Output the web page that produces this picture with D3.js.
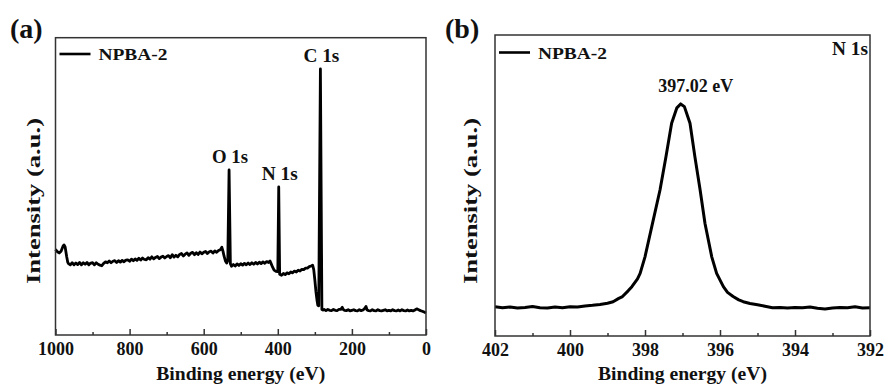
<!DOCTYPE html>
<html>
<head>
<meta charset="utf-8">
<script src="https://cdn.jsdelivr.net/npm/d3@7"></script>
<style>
  body { margin: 0; background: #fff; }
  text { font-family: "Liberation Serif", "Times New Roman", serif; font-weight: bold; fill: #111; }
</style>
</head>
<body>
<svg id="chart" width="887" height="387"></svg>
<script>
// (a) survey spectrum, binding energy (eV) vs intensity (a.u.)
const surveyEnergy = [
  1000, 995, 990, 985, 980, 977, 974, 970, 967, 965, 960, 955, 950, 945, 940, 935, 930, 925, 920, 915,
  910, 905, 900, 895, 890, 885, 880, 875, 870, 865, 860, 855, 850, 845, 840, 835, 830, 825, 820, 815,
  810, 805, 800, 795, 790, 785, 780, 775, 770, 765, 760, 755, 750, 745, 740, 735, 730, 725, 720, 715,
  710, 705, 700, 695, 690, 685, 680, 675, 670, 665, 660, 655, 650, 645, 640, 635, 630, 625, 620, 615,
  610, 605, 600, 595, 590, 585, 580, 575, 570, 565, 560, 555, 551, 548, 545, 541, 538, 535, 531.5, 528,
  525, 520, 515, 510, 505, 500, 495, 490, 485, 480, 475, 470, 465, 460, 455, 450, 445, 440, 435, 430,
  425, 421, 418, 414, 410, 405, 400, 397.5, 395, 390, 385, 380, 375, 370, 365, 360, 355, 350, 345, 340,
  335, 330, 325, 320, 315, 310, 306, 303, 300, 297, 294, 292, 289.5, 285, 281, 278, 275, 270, 265, 260,
  255, 250, 245, 240, 235, 230, 226, 223, 220, 215, 210, 205, 200, 195, 190, 185, 180, 175, 170, 165,
  162, 159, 155, 150, 145, 140, 135, 130, 125, 120, 115, 110, 105, 100, 95, 90, 85, 80, 75, 70,
  65, 60, 55, 50, 45, 40, 35, 30, 25, 20, 15, 10, 5, 0
];
const surveyIntensity = [
  28.8, 28.0, 27.6, 28.2, 29.8, 30.3, 29.6, 26.5, 24.5, 24.0, 23.6, 24.3, 23.6, 24.2, 23.7, 24.4, 23.6, 24.3, 23.8, 24.4,
  23.6, 24.2, 24.3, 23.6, 24.3, 23.8, 23.5, 23.3, 24.1, 24.6, 24.3, 24.9, 24.3, 24.8, 25.0, 24.4, 25.0, 24.5, 25.1, 24.6,
  25.2, 25.3, 24.8, 25.5, 25.0, 25.6, 25.1, 25.8, 25.2, 25.9, 25.4, 25.3, 26.0, 25.5, 26.3, 25.6, 26.1, 26.4, 25.7, 26.2,
  26.5, 25.9, 26.4, 26.7, 26.0, 27.0, 26.2, 26.8, 26.3, 27.1, 27.4, 26.6, 27.2, 27.6, 26.8, 27.5, 27.8, 27.0, 27.7, 27.1,
  27.9, 27.3, 27.8, 28.1, 27.4, 28.0, 28.2, 27.6, 28.3, 27.8, 28.4, 28.7, 29.5, 28.2, 26.5, 24.8, 24.2, 25.0, 55.5, 24.0,
  23.1, 23.7, 23.2, 23.9, 23.4, 24.0, 23.5, 24.1, 23.6, 24.2, 23.7, 24.3, 23.8, 24.4, 23.9, 24.5, 24.0, 24.6, 24.1, 24.7,
  24.4, 24.9, 24.0, 22.8, 21.8, 21.4, 21.3, 49.8, 20.4, 20.1, 20.7, 20.3, 20.9, 20.6, 21.2, 20.9, 21.5, 21.2, 21.8, 21.5,
  22.1, 22.0, 22.5, 22.5, 23.0, 23.2, 23.5, 22.0, 18.5, 14.5, 11.5, 10.0, 9.8, 89.5, 8.6, 8.4, 8.6, 8.2, 8.6, 8.3,
  8.2, 8.6, 8.3, 8.2, 8.6, 8.6, 9.3, 8.5, 8.3, 8.2, 8.5, 8.1, 8.3, 8.5, 8.2, 8.1, 8.5, 8.2, 8.4, 9.0,
  9.6, 8.4, 8.2, 8.1, 8.5, 8.2, 8.1, 8.5, 8.2, 8.1, 8.3, 8.5, 8.1, 8.3, 8.1, 8.5, 8.2, 8.1, 8.4, 8.1,
  8.5, 8.2, 8.1, 8.4, 8.1, 8.3, 8.1, 8.4, 8.8, 8.5, 8.2, 8.0, 7.7, 7.4
];
const surveyTicks = [1000, 800, 600, 400, 200, 0];
const surveyMinorTicks = [900, 700, 500, 300, 100];
const surveyPeaks = [
  { label: "O 1s", energy: 531.5, top: 55.5 },
  { label: "N 1s", energy: 397.5, top: 49.8 },
  { label: "C 1s", energy: 285, top: 89.5 }
];

// (b) high resolution N 1s
const n1sEnergy = [
  402.0, 401.8, 401.6, 401.4, 401.2, 401.0, 400.8, 400.6, 400.4, 400.2, 400.0, 399.8, 399.6, 399.4, 399.2,
  399.0, 398.85, 398.7, 398.6, 398.45, 398.35, 398.2, 398.13, 398.0, 397.8, 397.6, 397.44, 397.29, 397.15,
  397.05, 396.95, 396.8, 396.67, 396.53, 396.4, 396.22, 396.09, 395.91, 395.8, 395.65, 395.5, 395.38, 395.2,
  395.0, 394.8, 394.6, 394.4, 394.2, 394.0, 393.8, 393.6, 393.4, 393.2, 393.0, 392.8, 392.6, 392.4, 392.2, 392.0
];
const n1sIntensity = [
  9.7, 9.4, 9.6, 9.3, 9.5, 9.8, 9.4, 9.3, 9.6, 9.4, 9.7, 9.6, 10.0, 10.2, 10.5,
  10.9, 11.4, 12.5, 13.1, 15.0, 16.4, 19.0, 20.8, 26.3, 37.4, 48.5, 59.6, 70.7, 75.8,
  77.1, 76.2, 70.7, 59.6, 48.5, 37.4, 26.3, 20.8, 16.4, 14.5, 13.1, 12.0, 11.4, 10.8,
  10.4, 9.9, 9.4, 9.5, 9.3, 9.5, 9.4, 9.6, 9.2, 9.0, 9.3, 9.5, 9.4, 9.7, 9.3, 9.4
];
const n1sTicks = [402, 400, 398, 396, 394, 392];
const n1sMinorTicks = [401, 399, 397, 395, 393];

const svg = d3.select('#chart');

function drawPanel(opts) {
  const { left, right, top, bottom } = opts;
  const g = svg.append('g');

  const x = d3.scaleLinear().domain(opts.xDomain).range([left, right]);
  const y = d3.scaleLinear().domain([0, 100]).range([bottom, top]);

  // Spectrum
  const line = d3.line()
    .x(d => x(d[0]))
    .y(d => y(d[1]));
  const points = d3.zip(opts.energy, opts.intensity);
  g.append('path')
    .datum(points)
    .attr('d', line)
    .attr('fill', 'none')
    .attr('stroke', '#000')
    .attr('stroke-width', opts.lineWidth)
    .attr('stroke-linejoin', 'round');

  // Frame
  g.append('rect')
    .attr('x', left).attr('y', top)
    .attr('width', right - left).attr('height', bottom - top)
    .attr('fill', 'none')
    .attr('stroke', '#333')
    .attr('stroke-width', 1.5);

  // Bottom axis, ticks pointing inward
  const axis = g.append('g')
    .attr('transform', 'translate(0,' + bottom + ')')
    .call(d3.axisBottom(x)
      .tickValues(opts.ticks)
      .tickSizeInner(-6)
      .tickSizeOuter(0)
      .tickPadding(7)
      .tickFormat(d3.format('d')));
  axis.select('.domain').remove();
  axis.selectAll('line').attr('stroke', '#333').attr('stroke-width', 1.5);
  axis.selectAll('text').style('font-size', '18px').attr('fill', '#111');

  const minor = g.append('g')
    .attr('transform', 'translate(0,' + bottom + ')')
    .call(d3.axisBottom(x)
      .tickValues(opts.minorTicks)
      .tickSizeInner(-3)
      .tickSizeOuter(0)
      .tickFormat(''));
  minor.select('.domain').remove();
  minor.selectAll('line').attr('stroke', '#333').attr('stroke-width', 1.5);

  // Axis titles
  g.append('text')
    .attr('x', (left + right) / 2)
    .attr('y', 379.5)
    .attr('text-anchor', 'middle')
    .attr('textLength', 169)
    .attr('lengthAdjust', 'spacingAndGlyphs')
    .style('font-size', '18px')
    .text('Binding energy (eV)');

  g.append('text')
    .attr('transform', 'translate(' + opts.yLabelX + ',201) rotate(-90)')
    .attr('text-anchor', 'middle')
    .attr('textLength', 166)
    .attr('lengthAdjust', 'spacingAndGlyphs')
    .style('font-size', '18px')
    .text('Intensity (a.u.)');

  // Panel tag
  g.append('text')
    .attr('x', opts.tagX)
    .attr('y', 38)
    .style('font-size', '28px')
    .text(opts.tag);

  // Legend
  g.append('line')
    .attr('x1', left + 4).attr('x2', left + 35)
    .attr('y1', opts.legendY).attr('y2', opts.legendY)
    .attr('stroke', '#000').attr('stroke-width', 2.6);
  g.append('text')
    .attr('x', left + 43)
    .attr('y', opts.legendY + 6)
    .attr('textLength', 69)
    .attr('lengthAdjust', 'spacingAndGlyphs')
    .style('font-size', '16px')
    .text('NPBA-2');

  return { g, x, y };
}

// Panel (a)
const a = drawPanel({
  left: 55.5, right: 426, top: 37.7, bottom: 335,
  xDomain: [1000, 0],
  energy: surveyEnergy, intensity: surveyIntensity,
  ticks: surveyTicks, minorTicks: surveyMinorTicks,
  yLabelX: 40, tag: '(a)', tagX: 10, legendY: 54, lineWidth: 2.8
});
a.g.selectAll('.peak-label')
  .data(surveyPeaks)
  .enter()
  .append('text')
  .attr('class', 'peak-label')
  .attr('x', d => a.x(d.energy) + 1)
  .attr('y', d => a.y(d.top) - 7)
  .attr('text-anchor', 'middle')
  .attr('textLength', 36)
  .attr('lengthAdjust', 'spacingAndGlyphs')
  .style('font-size', '18px')
  .text(d => d.label);

// Panel (b)
const b = drawPanel({
  left: 495, right: 870, top: 35, bottom: 336,
  xDomain: [402, 392],
  energy: n1sEnergy, intensity: n1sIntensity,
  ticks: n1sTicks, minorTicks: n1sMinorTicks,
  yLabelX: 476.5, tag: '(b)', tagX: 445, legendY: 52.5, lineWidth: 3
});
b.g.append('text')
  .attr('x', 868)
  .attr('y', 55)
  .attr('text-anchor', 'end')
  .attr('textLength', 36)
  .attr('lengthAdjust', 'spacingAndGlyphs')
  .style('font-size', '18px')
  .text('N 1s');
b.g.append('text')
  .attr('x', b.x(397.02) + 14)
  .attr('y', 91.5)
  .attr('text-anchor', 'middle')
  .style('font-size', '18px')
  .text('397.02 eV');
</script>
</body>
</html>
